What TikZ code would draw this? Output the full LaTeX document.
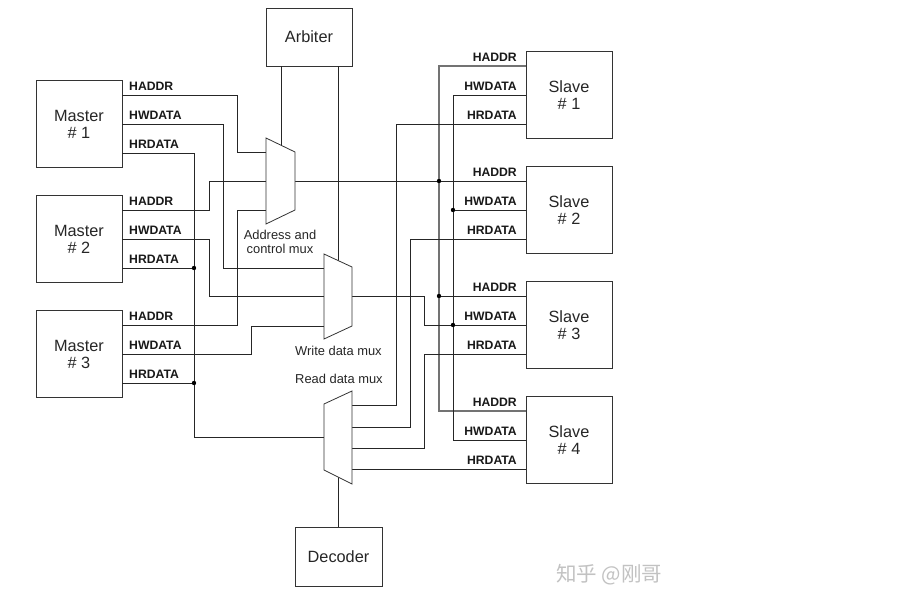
\documentclass[tikz,border=0pt]{standalone}
\usepackage{fontspec}
\setmainfont{Liberation Sans}
\newfontfamily\cjk{Noto Sans CJK SC}
\begin{document}
\begin{tikzpicture}[x=1pt,y=-1pt,
  box/.style={draw=black!80,line width=0.8pt,minimum width=86pt,minimum height=87pt,inner sep=0pt,align=center,font=\fontsize{16.3}{17}\selectfont,text=black!85},
  wire/.style={draw=black!85,line width=0.8pt},
  bus/.style={draw=black!55,line width=1.2pt},
  mux/.style={draw=black!80,line width=0.8pt,fill=white},
  sig/.style={font=\bfseries\fontsize{12.2}{12}\selectfont,inner sep=0pt,text=black!90},
  muxlbl/.style={font=\fontsize{12.9}{14}\selectfont,inner sep=0pt,text=black!85},
  jdot/.style={circle,fill=black,inner sep=0pt,minimum size=4.4pt}]
\useasboundingbox (0,0) rectangle (902,599);
\fill[white] (0,0) rectangle (902,599);

% masters
\node[box] (m1) at (79,124) {Master\\\# 1};
\node[box] (m2) at (79,239) {Master\\\# 2};
\node[box] (m3) at (79,354) {Master\\\# 3};
% slaves
\node[box] (s1) at (569,95) {Slave\\\# 1};
\node[box] (s2) at (569,210) {Slave\\\# 2};
\node[box] (s3) at (569,325) {Slave\\\# 3};
\node[box] (s4) at (569,440) {Slave\\\# 4};
% arbiter, decoder
\node[box,minimum height=58pt] (arb) at (309,37) {Arbiter};
\node[box,minimum width=87pt,minimum height=59pt] (dec) at (338.5,556.5) {Decoder};

% ports
\foreach \n in {m1,m2,m3}{
  \coordinate (\n a) at ([yshift=29pt]\n.east);
  \coordinate (\n w) at (\n.east);
  \coordinate (\n r) at ([yshift=-29pt]\n.east);
}
\foreach \n in {s1,s2,s3,s4}{
  \coordinate (\n a) at ([yshift=29pt]\n.west);
  \coordinate (\n w) at (\n.west);
  \coordinate (\n r) at ([yshift=-29pt]\n.west);
}

% mux coordinates
\coordinate (am1) at (266,138); \coordinate (am2) at (295,152);
\coordinate (am3) at (295,210); \coordinate (am4) at (266,224);
\coordinate (ami1) at (266,152); \coordinate (ami2) at (266,181);
\coordinate (ami3) at (266,210); \coordinate (amo) at (295,181);
\coordinate (amt) at (281,145.2);

\coordinate (wm1) at (324,254); \coordinate (wm2) at (352,267);
\coordinate (wm3) at (352,326); \coordinate (wm4) at (324,339);
\coordinate (wmi1) at (324,268); \coordinate (wmi2) at (324,296);
\coordinate (wmi3) at (324,326); \coordinate (wmo) at (352,296);
\coordinate (wmt) at (338,260.5);

\coordinate (rm1) at (324,404); \coordinate (rm2) at (352,391);
\coordinate (rm3) at (352,484); \coordinate (rm4) at (324,470);
\coordinate (rmo) at (324,437);
\coordinate (rmi1) at (352,405); \coordinate (rmi2) at (352,427);
\coordinate (rmi3) at (352,448); \coordinate (rmi4) at (352,469);
\coordinate (rmb) at (338,477);

% master side wires
\draw[wire] (m1a) -| (237,152) -- (ami1);
\draw[wire] (m1w) -| (223,268) -- (wmi1);
\draw[wire] (m1r) -| (194,437) -- (rmo);
\draw[wire] (m2a) -| (209,181) -- (ami2);
\draw[wire] (m2w) -| (209,296) -- (wmi2);
\draw[wire] (m2r) -- (194,268);
\draw[wire] (m3a) -| (237,210) -- (ami3);
\draw[wire] (m3w) -| (251,326) -- (wmi3);
\draw[wire] (m3r) -- (194,383);

% arbiter and decoder
\draw[wire] (arb.south -| amt) -- (amt);
\draw[wire] (arb.south -| wmt) -- (wmt);
\draw[wire] (rmb) -- (rmb |- dec.north);

% slave side wires
\draw[wire] (amo) -- (s2a);
\draw[bus] (s1a) -| (439,411) -- (s4a);
\draw[wire] (439,296) -- (s3a);
\draw[wire] (wmo) -| (424,325) -- (s3w);
\draw[wire] (s1w) -| (453,440) -- (s4w);
\draw[wire] (453,210) -- (s2w);
\draw[wire] (s1r) -| (396,405) -- (rmi1);
\draw[wire] (s2r) -| (410,427) -- (rmi2);
\draw[wire] (s3r) -| (424,448) -- (rmi3);
\draw[wire] (s4r) -- (rmi4);

% muxes
\draw[mux] (am1) -- (am2) -- (am3) -- (am4) -- cycle;
\draw[mux] (wm1) -- (wm2) -- (wm3) -- (wm4) -- cycle;
\draw[mux] (rm1) -- (rm2) -- (rm3) -- (rm4) -- cycle;

% junction dots
\node[jdot] (d1) at (194,268) {};
\node[jdot] (d2) at (194,383) {};
\node[jdot] (d3) at (439,181) {};
\node[jdot] (d4) at (439,296) {};
\node[jdot] (d5) at (453,210) {};
\node[jdot] (d6) at (453,325) {};

% master labels
\foreach \n/\c in {m1/95,m2/210,m3/325}{
  \node[sig,anchor=base west] (\n la) at (129,\c-4.5) {HADDR};
  \node[sig,anchor=base west] (\n lw) at (129,\c+29-4.5) {HWDATA};
  \node[sig,anchor=base west] (\n lr) at (129,\c+58-4.5) {HRDATA};
}
% slave labels
\foreach \n/\c in {s1/66,s2/181,s3/296,s4/411}{
  \node[sig,anchor=base east] (\n la) at (517,\c-4.5) {HADDR};
  \node[sig,anchor=base east] (\n lw) at (517,\c+29-4.5) {HWDATA};
  \node[sig,anchor=base east] (\n lr) at (517,\c+58-4.5) {HRDATA};
}

% mux labels
\node[muxlbl,align=center] (amlbl) at (280,242) {Address and\\control mux};
\node[muxlbl,anchor=base west] (wmlbl) at (295,355) {Write data mux};
\node[muxlbl,anchor=base west] (rmlbl) at (295,383) {Read data mux};

% watermark
\node[font=\cjk\fontsize{20.5}{22}\selectfont,text=black!24,anchor=west,inner sep=0pt] (wmark) at (556,575) {知乎 @刚哥};
\end{tikzpicture}
\end{document}
